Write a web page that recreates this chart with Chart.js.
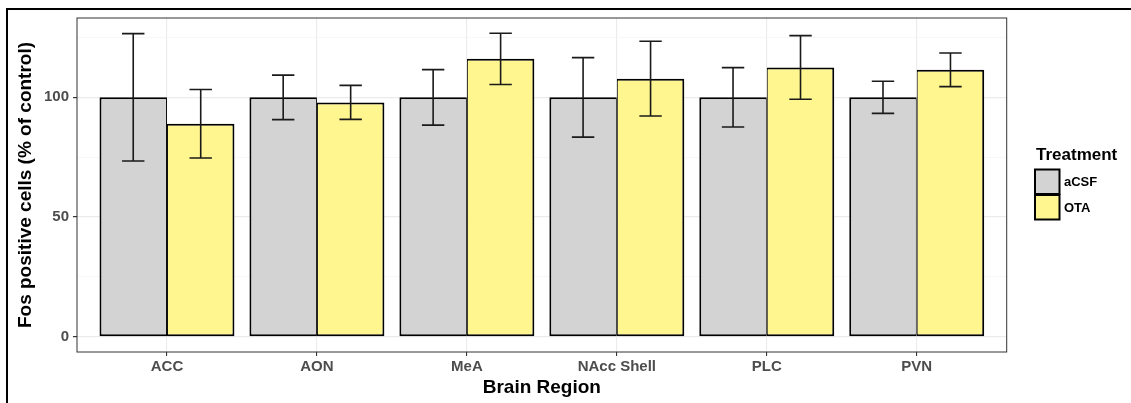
<!DOCTYPE html>
<html>
<head>
<meta charset="utf-8">
<script src="https://cdn.jsdelivr.net/npm/chart.js@4.4.0/dist/chart.umd.min.js"></script>
<style>
    body { margin: 0; background: #fff; }
    #wrap { position: relative; width: 1131px; height: 403px; overflow: hidden; }
    #frame { position: absolute; left: 6px; top: 8px; width: 1200px; height: 500px;
             border-top: 2px solid #000; border-left: 2px solid #000; pointer-events: none; }
</style>
</head>
<body>
<div id="wrap">
    <canvas id="chart" width="1131" height="403"></canvas>
    <div id="frame"></div>
</div>
<script>
// values
let regions = ['ACC', 'AON', 'MeA', 'NAcc Shell', 'PLC', 'PVN'];
let acsfMean = [100, 100, 100, 100, 100, 100];
let acsfErr = [26.6, 9.3, 11.6, 16.6, 12.4, 6.7];
let otaMean = [89.0, 97.9, 116.1, 107.8, 112.5, 111.5];
let otaErr = [14.3, 7.1, 10.7, 15.6, 13.3, 7.0];
let yTicks = [0, 25, 50, 75, 100, 125];
let yLabelled = [0, 50, 100];

let fontFamily = '"Liberation Sans", Arial, Helvetica, sans-serif';
let grayFill = '#d3d3d3';
let yellowFill = '#fff68f';

// Error bars on top of the bars
const errorBars = {
    id: 'errorBars',
    afterDatasetsDraw(chart) {
        let ctx = chart.ctx;
        let yScale = chart.scales.y;
        let sets = [[acsfMean, acsfErr], [otaMean, otaErr]];
        ctx.save();
        ctx.strokeStyle = '#1a1a1a';
        ctx.lineWidth = 1.6;
        sets.forEach(([means, errs], i) => {
            let meta = chart.getDatasetMeta(i);
            meta.data.forEach((bar, j) => {
                let top = yScale.getPixelForValue(means[j] + errs[j]);
                let bottom = yScale.getPixelForValue(means[j] - errs[j]);
                let half = 11.2;
                ctx.beginPath();
                ctx.moveTo(bar.x, top);
                ctx.lineTo(bar.x, bottom);
                ctx.moveTo(bar.x - half, top);
                ctx.lineTo(bar.x + half, top);
                ctx.moveTo(bar.x - half, bottom);
                ctx.lineTo(bar.x + half, bottom);
                ctx.stroke();
            });
        });
        ctx.restore();
    }
};

// Panel border and the legend on the right
const panelAndLegend = {
    id: 'panelAndLegend',
    afterDraw(chart) {
        let ctx = chart.ctx;
        let area = chart.chartArea;
        ctx.save();
        ctx.strokeStyle = '#333333';
        ctx.lineWidth = 1;
        ctx.strokeRect(area.left, area.top, area.right - area.left, area.bottom - area.top);

        ctx.fillStyle = '#000';
        ctx.textBaseline = 'middle';
        ctx.textAlign = 'left';
        ctx.font = 'bold 17px ' + fontFamily;
        ctx.fillText('Treatment', 1036, 155);

        let items = [['aCSF', grayFill], ['OTA', yellowFill]];
        items.forEach(([label, fill], i) => {
            let y = 169.5 + i * 25.5;
            ctx.fillStyle = fill;
            ctx.fillRect(1035, y, 24.5, 24.5);
            ctx.strokeStyle = '#000';
            ctx.lineWidth = 2;
            ctx.strokeRect(1035, y, 24.5, 24.5);
            ctx.fillStyle = '#000';
            ctx.font = 'bold 13px ' + fontFamily;
            ctx.fillText(label, 1064, y + 13);
        });
        ctx.restore();
    }
};

let ctx = document.getElementById('chart').getContext('2d');
new Chart(ctx, {
    type: 'bar',
    data: {
        datasets: [
            {
                label: 'aCSF',
                data: acsfMean.map((v, i) => ({ x: i + 1, y: v })),
                backgroundColor: grayFill,
                borderColor: '#000',
                borderWidth: { top: 2, bottom: 2, left: 2, right: 1 },
                borderSkipped: false
            },
            {
                label: 'OTA',
                data: otaMean.map((v, i) => ({ x: i + 1, y: v })),
                backgroundColor: yellowFill,
                borderColor: '#000',
                borderWidth: { top: 2, bottom: 2, left: 1, right: 2 },
                borderSkipped: false
            }
        ]
    },
    options: {
        responsive: false,
        animation: false,
        categoryPercentage: 0.9,
        barPercentage: 1,
        layout: { padding: { top: 18, right: 124.3, left: 0, bottom: 0 } },
        plugins: {
            legend: { display: false },
            tooltip: { enabled: false }
        },
        scales: {
            x: {
                type: 'linear',
                min: 0.4,
                max: 6.6,
                offset: false,
                afterBuildTicks: s => { s.ticks = regions.map((r, i) => ({ value: i + 1 })); },
                afterFit: s => { s.height = 51; },
                grid: {
                    offset: false,
                    color: '#ebebeb',
                    lineWidth: 1.1,
                    tickColor: '#333333',
                    tickLength: 4
                },
                border: { display: false },
                ticks: {
                    autoSkip: false,
                    maxRotation: 0,
                    padding: 2,
                    color: '#4d4d4d',
                    font: { family: fontFamily, size: 15, weight: 'bold' },
                    callback: v => regions[v - 1]
                },
                title: {
                    display: true,
                    text: 'Brain Region',
                    color: '#000',
                    font: { family: fontFamily, size: 19, weight: 'bold' },
                    padding: { top: 0, bottom: 3.6 }
                }
            },
            y: {
                min: -6.34,
                max: 133.14,
                afterBuildTicks: s => { s.ticks = yTicks.map(v => ({ value: v })); },
                afterFit: s => { s.width = 77; },
                grid: {
                    color: c => yLabelled.includes(c.tick.value) ? '#ebebeb' : '#f3f3f3',
                    lineWidth: c => yLabelled.includes(c.tick.value) ? 1.2 : 0.7,
                    tickColor: c => yLabelled.includes(c.tick.value) ? '#333333' : 'rgba(0,0,0,0)',
                    tickLength: 4
                },
                border: { display: false },
                ticks: {
                    padding: 4,
                    color: '#4d4d4d',
                    font: { family: fontFamily, size: 15, weight: 'bold' },
                    callback: v => yLabelled.includes(v) ? v : ''
                },
                title: {
                    display: true,
                    text: 'Fos positive cells (% of control)',
                    color: '#000',
                    font: { family: fontFamily, size: 19, weight: 'bold' },
                    padding: { top: 14.6, bottom: 0 }
                }
            }
        }
    },
    plugins: [errorBars, panelAndLegend]
});
</script>
</body>
</html>
